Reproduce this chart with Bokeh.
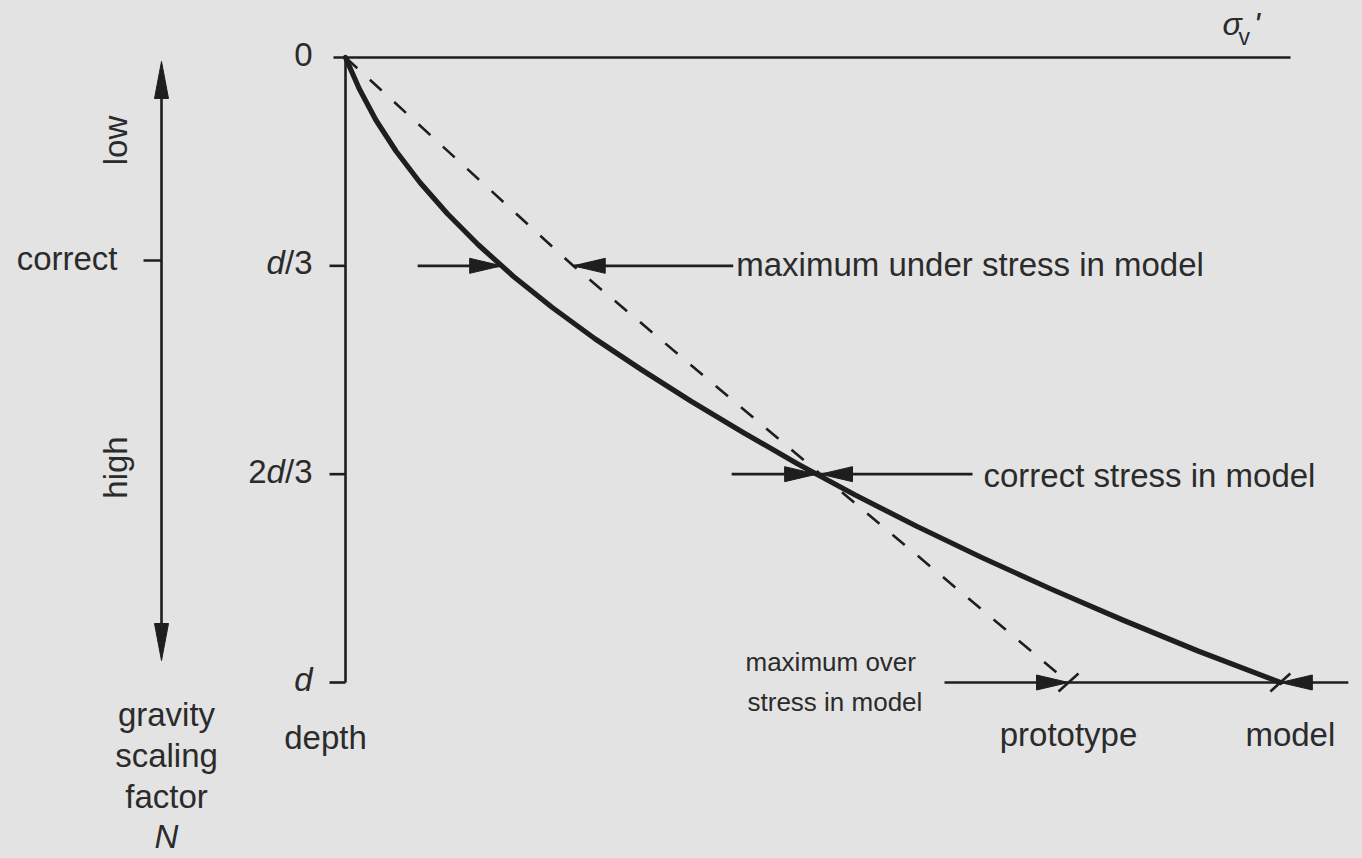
import numpy as np
from bokeh.plotting import figure
from bokeh.models import Range1d
from bokeh.core.properties import value
from bokeh.embed import file_html
from bokeh.resources import INLINE

# ---------------- values ----------------
depth_ticks = [0.0, 1 / 3, 2 / 3, 1.0]
# tick labels as (piece, style) parts so that "d" can be italic
tick_labels = [
    [("0", "normal")],
    [("d", "italic"), ("/3", "normal")],
    [("2", "normal"), ("d", "italic"), ("/3", "normal")],
    [("d", "italic")],
]
# model (centrifuge) vertical stress vs depth (depth as fraction of d)
model_depth = [0.0, 0.05, 0.10, 0.15, 0.20, 0.25, 0.30, 0.35, 0.40, 0.45, 0.50,
               0.55, 0.60, 0.65, 0.70, 0.75, 0.80, 0.85, 0.90, 0.95, 1.0]
model_stress = [0.0, 0.019, 0.042, 0.070, 0.103, 0.141, 0.184, 0.232, 0.286, 0.345, 0.410,
                0.478, 0.550, 0.625, 0.705, 0.790, 0.880, 0.975, 1.075, 1.180, 1.293]
# prototype vertical stress vs depth
proto_depth = [0.0, 1 / 3, 2 / 3, 1.0]
proto_stress = [0.0, 0.315, 0.657, 1.0]
# gravity scaling factor axis labels
n_labels = ["low", "correct", "high"]
n_title = ["gravity", "scaling", "factor"]
annotations = ["maximum under stress in model", "correct stress in model",
               ["maximum over", "stress in model"]]
end_labels = ["prototype", "model"]

# ---------------- layout / style ----------------
BG = "#e3e3e3"
INK = "#1e1e1e"
TXT = "#2b2b2b"
FONT = "Liberation Sans"
FS = 33
W, H = 1362, 858
X0, SX = 345, 723     # screen x of zero stress, px per stress unit
Y0, SY = 57, 625      # screen y of zero depth, px per depth d


def sx(px):  # layout helper: reference-pixel x -> data
    return (px - X0) / SX


def sy(py):
    return (py - Y0) / SY


def dx(px):
    return px / SX


def dy(py):
    return py / SY


p = figure(width=W, height=H, output_backend="svg", toolbar_location=None,
           x_axis_type=None, y_axis_type=None, min_border=0,
           x_range=Range1d(sx(0), sx(W)), y_range=Range1d(sy(H), sy(0)))
p.grid.visible = False
p.outline_line_color = None
p.background_fill_color = BG
p.border_fill_color = BG

BASE_FIX = 0.39  # renderer draws alphabetic baseline ~0.39em low; compensate


def txt(x, y, s, size=FS, align="left", style="normal", angle=0.0, xo=0):
    if angle:
        x = x - dx(BASE_FIX * size)
    else:
        y = y - dy(BASE_FIX * size)
    p.text(x=[x], y=[y], text=[s], text_font=value(FONT), text_font_size=f"{size}px",
           text_align=align, text_baseline="alphabetic", text_font_style=style,
           angle=angle, x_offset=xo, text_color=TXT)


heads_x, heads_y = [], []


def head(tx, ty, direction, L=32, Wd=7.5):
    """arrow head with tip at (tx, ty); direction: 'r','l','u','d' (screen)"""
    if direction == "r":
        heads_x.append([tx, tx - dx(L), tx - dx(L)])
        heads_y.append([ty, ty - dy(Wd), ty + dy(Wd)])
    elif direction == "l":
        heads_x.append([tx, tx + dx(L), tx + dx(L)])
        heads_y.append([ty, ty - dy(Wd), ty + dy(Wd)])
    elif direction == "u":
        heads_x.append([tx, tx - dx(Wd), tx + dx(Wd)])
        heads_y.append([ty, ty + dy(L), ty + dy(L)])
    else:
        heads_x.append([tx, tx - dx(Wd), tx + dx(Wd)])
        heads_y.append([ty, ty - dy(L), ty - dy(L)])


# ---- stress axis (top) and depth axis ----
p.segment(x0=[sx(333)], y0=[0], x1=[sx(1290)], y1=[0], line_color=INK, line_width=2.6)
p.segment(x0=[0], y0=[0], x1=[0], y1=[depth_ticks[-1]], line_color=INK, line_width=2.6)
p.segment(x0=[-dx(16)] * 3, y0=depth_ticks[1:], x1=[0] * 3, y1=depth_ticks[1:],
          line_color=INK, line_width=2.6)

# tick labels (right aligned, composed of parts)
char_w = {"0": 0.556, "2": 0.556, "d": 0.556, "/3": 0.834}
for d, parts in zip(depth_ticks, tick_labels):
    off = -33
    for piece, style in reversed(parts):
        txt(0, d + dy(10), piece, align="right", style=style, xo=off)
        off -= char_w[piece] * FS

# sigma_v' label
txt(sx(1222), sy(36), "σ", size=32, style="italic")
txt(sx(1238), sy(45), "v", size=23)
txt(sx(1253), sy(37), "'", size=34, style="italic")

# "depth"
txt(0, sy(750), "depth", align="center", xo=-20)

# ---- prototype (dashed) and model (solid) stress profiles ----
p.line(proto_stress, proto_depth, line_color=INK, line_width=2.6, line_dash="16 17")
p.line(model_stress, model_depth, line_color=INK, line_width=5.2, line_cap="round",
       line_join="round")

m = lambda z: float(np.interp(z, model_depth, model_stress))
q = lambda z: float(np.interp(z, proto_depth, proto_stress))

seg = dict(x0=[], y0=[], x1=[], y1=[])


def shaft(a, za, b, zb):
    seg["x0"].append(a); seg["y0"].append(za); seg["x1"].append(b); seg["y1"].append(zb)


# row d/3 : maximum under stress
z1 = depth_ticks[1]
shaft(m(z1) - dx(84), z1, m(z1), z1); head(m(z1), z1, "r")
shaft(q(z1), z1, q(z1) + dx(160), z1); head(q(z1), z1, "l")
txt(q(z1) + dx(163), z1 + dy(12), annotations[0])

# row 2d/3 : correct stress
z2 = depth_ticks[2]
shaft(m(z2) - dx(85), z2, m(z2), z2); head(m(z2), z2, "r")
shaft(q(z2), z2, q(z2) + dx(152), z2); head(q(z2), z2, "l")
txt(q(z2) + dx(163), z2 + dy(14), annotations[1])

# row d : maximum over stress
z3 = depth_ticks[3]
shaft(q(z3) - dx(124), z3, m(z3) + dx(68), z3)
head(q(z3), z3, "r")
head(m(z3), z3, "l")
for s in (q(z3), m(z3)):
    shaft(s - dx(10), z3 + dy(9), s + dx(10), z3 - dy(9))
txt(q(z3) - dx(323), z3 - dy(10), annotations[2][0], size=26)
txt(q(z3) - dx(321), z3 + dy(30), annotations[2][1], size=26)
txt(q(z3), z3 + dy(65), end_labels[0], align="center")
txt(m(z3), z3 + dy(65), end_labels[1], align="center", xo=10)

# ---- gravity scaling factor N axis ----
NX = sx(161)
shaft(NX, sy(90), NX, sy(630))
head(NX, sy(61), "u", L=37, Wd=7)
head(NX, sy(660), "d", L=37, Wd=7)
shaft(NX - dx(18), sy(260), NX, sy(260))
txt(sx(128), sy(140), n_labels[0], align="center", angle=np.pi / 2)
txt(sx(117), sy(271), n_labels[1], align="right")
txt(sx(128), sy(467), n_labels[2], align="center", angle=np.pi / 2)
for i, t in enumerate(n_title):
    txt(sx(166), sy(727 + 41 * i), t, align="center")
txt(sx(166), sy(849), "N", align="center", style="italic")

p.segment(x0=seg["x0"], y0=seg["y0"], x1=seg["x1"], y1=seg["y1"], line_color=INK,
          line_width=2.6)
p.patches(heads_x, heads_y, fill_color=INK, line_color=INK, line_width=1)

html = file_html(p, INLINE, title="Stress profile in centrifuge model")
html = html.replace(
    "</head>",
    f"<style>html,body{{margin:0;padding:0;overflow:hidden;background:{BG};}}</style></head>", 1)
open("out.html", "w").write(html)
